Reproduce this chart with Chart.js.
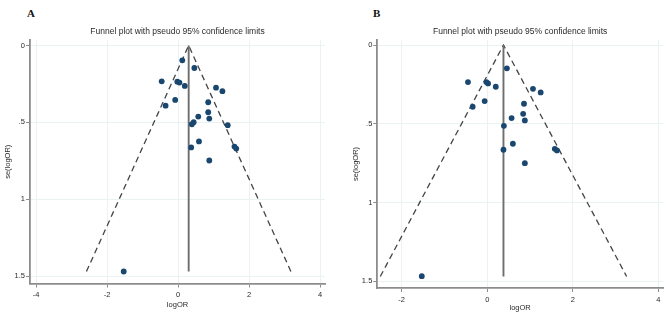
<!DOCTYPE html>
<html>
<head>
<meta charset="utf-8">
<script src="https://cdn.jsdelivr.net/npm/chart.js@4.4.1/dist/chart.umd.min.js"></script>
<style>
 body { margin:0; background:#fff; }
 #wrap { position:relative; width:669px; height:319px; overflow:hidden; }
 canvas { position:absolute; top:0; }
 .lab { position:absolute; top:7px; font:bold 11px "Liberation Serif", "DejaVu Serif", serif; color:#111; }
</style>
</head>
<body>
<div id="wrap">
 <div class="lab" style="left:27px">A</div>
 <div class="lab" style="left:373px">B</div>
 <canvas id="chartA" width="334" height="319" style="left:0"></canvas>
 <canvas id="chartB" width="334" height="319" style="left:335px"></canvas>
</div>
<script>
// panel A - studies (logOR, se)
const aLogOR = [0.12, 0.46, -0.46, -0.02, 0.04, 0.19, 1.07, 1.25, -0.08, -0.35, 0.85, 0.85,
                0.57, 0.88, 0.44, 0.39, 1.40, 0.37, 0.59, 1.59, 1.64, 0.88, -1.53];
const aSe    = [0.096, 0.146, 0.233, 0.235, 0.241, 0.263, 0.274, 0.297, 0.354, 0.391, 0.369, 0.434,
                0.462, 0.475, 0.499, 0.512, 0.518, 0.663, 0.624, 0.657, 0.670, 0.748, 1.470];
const aPooledX = [0.30, 0.30];
const aPooledSe = [0, 1.47];
const aLimitX = [-2.58, 0.30, 3.18];
const aLimitSe = [1.47, 0, 1.47];
const aXTicks = [-4, -2, 0, 2, 4];

// panel B
const bLogOR = [0.46, -0.45, -0.02, 0.02, 0.20, 1.07, 1.25, -0.06, -0.34, 0.86, 0.84,
                0.57, 0.88, 0.39, 0.60, 0.38, 1.58, 1.63, 0.88, -1.53];
const bSe    = [0.148, 0.235, 0.235, 0.244, 0.265, 0.278, 0.301, 0.356, 0.392, 0.373, 0.437,
                0.464, 0.479, 0.513, 0.627, 0.665, 0.659, 0.669, 0.750, 1.468];
const bPooledX = [0.38, 0.38];
const bPooledSe = [0, 1.47];
const bLimitX = [-2.50, 0.38, 3.26];
const bLimitSe = [1.47, 0, 1.47];
const bXTicks = [-2, 0, 2, 4];

const yTicks = [0, 0.5, 1, 1.5];
const yTickLabels = ['0', '.5', '1', '1.5'];
const titleText = 'Funnel plot with pseudo 95% confidence limits';

const FONT = '"Liberation Sans", Arial, sans-serif';
const pts = (xs, ys) => xs.map((x, i) => ({x: x, y: ys[i]}));

function funnel(id, d) {
 return new Chart(document.getElementById(id), {
  type: 'scatter',
  data: {
   datasets: [
    {
     data: pts(d.x, d.se),
     backgroundColor: '#1a476f',
     borderWidth: 0,
     pointRadius: 2.9,
     pointHoverRadius: 2.9
    },
    {
     data: pts(d.px, d.pse),
     showLine: true,
     borderColor: '#6e6e6e',
     borderWidth: 1.9,
     pointRadius: 0
    },
    {
     data: pts(d.lx, d.lse),
     showLine: true,
     borderColor: '#444',
     borderWidth: 1.3,
     borderDash: [6, 4],
     pointRadius: 0
    }
   ]
  },
  options: {
   responsive: false,
   animation: false,
   events: [],
   layout: { padding: { left: 0, right: d.padRight, top: 0, bottom: 0 } },
   plugins: {
    legend: { display: false },
    tooltip: { enabled: false },
    title: {
     display: true,
     fullSize: false,
     text: titleText,
     color: '#2a2a2a',
     font: { family: FONT, size: 8.5, weight: 'normal', lineHeight: 1.2 },
     padding: { top: 26.4, bottom: 3.4 }
    }
   },
   scales: {
    x: {
     type: 'linear',
     min: d.xmin, max: d.xmax,
     afterFit: s => { s.height = d.xHeight; },
     afterBuildTicks: s => { s.ticks = d.xTicks.map(v => ({value: v})); },
     ticks: { color: '#2a2a2a', font: { family: FONT, size: 7.5 }, padding: 3, maxRotation: 0,
              callback: v => String(v) },
     grid: { color: '#eaf2f3', lineWidth: 1, tickColor: '#8c8c8c', tickLength: 4 },
     border: { color: '#8c8c8c', width: 1.8 },
     title: { display: true, text: 'logOR', color: '#2a2a2a',
              font: { family: FONT, size: 7.5, lineHeight: 1.2 },
              padding: { top: 0, bottom: d.xTitlePad } }
    },
    y: {
     type: 'linear',
     reverse: true,
     min: d.ymin, max: d.ymax,
     afterFit: s => { s.width = d.yWidth; },
     afterBuildTicks: s => { s.ticks = yTicks.map(v => ({value: v})); },
     ticks: { color: '#2a2a2a', font: { family: FONT, size: 7.5 }, padding: 1,
              callback: v => yTickLabels[yTicks.indexOf(v)] },
     grid: { color: '#eaf2f3', lineWidth: 1, tickColor: '#8c8c8c', tickLength: 4 },
     border: { color: '#8c8c8c', width: 1.8 },
     title: { display: true, text: 'se(logOR)', color: '#2a2a2a',
              font: { family: FONT, size: 7.5, lineHeight: 1.2 },
              padding: { top: d.yTitlePad, bottom: 0 } }
    }
   }
  }
 });
}

funnel('chartA', {
 x: aLogOR, se: aSe, px: aPooledX, pse: aPooledSe, lx: aLimitX, lse: aLimitSe,
 xTicks: aXTicks, xmin: -4.17, xmax: 4.14, ymin: -0.036, ymax: 1.548,
 padRight: 9, yWidth: 30, xHeight: 35.5, xTitlePad: 10, yTitlePad: 3.5
});
funnel('chartB', {
 x: bLogOR, se: bSe, px: bPooledX, pse: bPooledSe, lx: bLimitX, lse: bLimitSe,
 xTicks: bXTicks, xmin: -2.57, xmax: 4.11, ymin: -0.032, ymax: 1.543,
 padRight: 6, yWidth: 42.3, xHeight: 31, xTitlePad: 6.5, yTitlePad: 16
});
</script>
</body>
</html>
